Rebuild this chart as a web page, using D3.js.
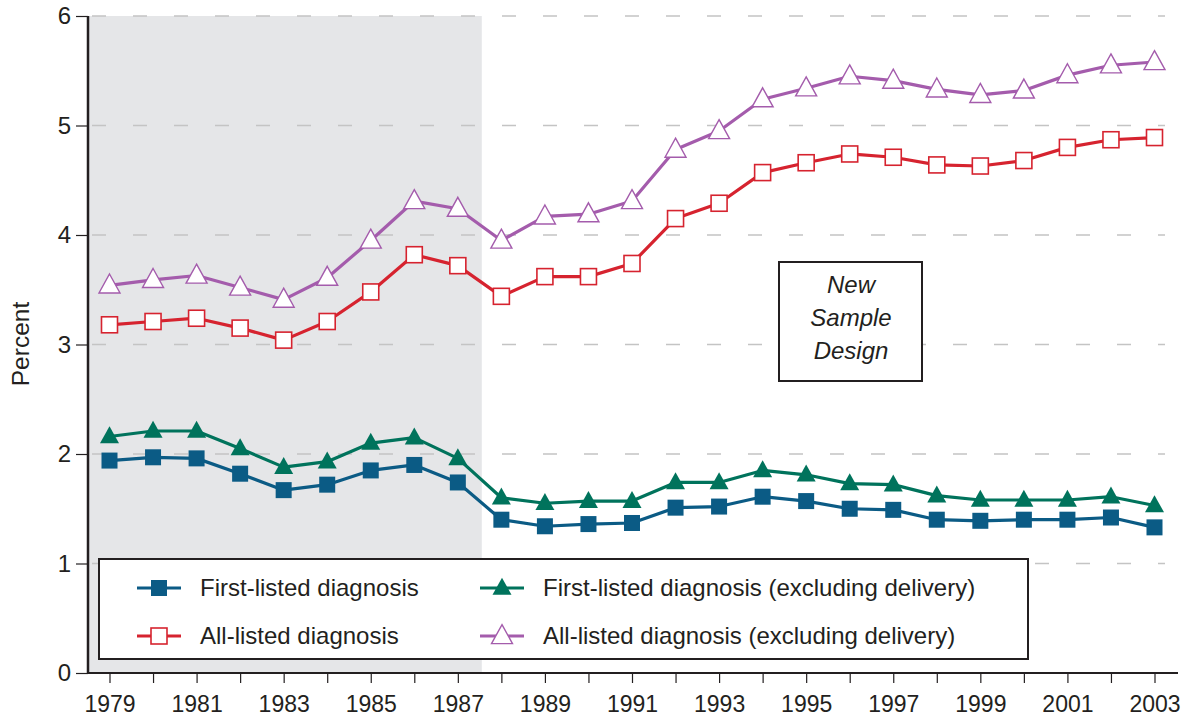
<!DOCTYPE html>
<html>
<head>
<meta charset="utf-8">
<script src="https://cdn.jsdelivr.net/npm/d3@7"></script>
<style>
  body { margin: 0; background: #fff; }
  svg { font-family: "Liberation Sans", Arial, sans-serif; }
</style>
</head>
<body>
<svg width="1188" height="717"></svg>
<script>
let years = d3.range(1979, 2004);

let firstListed = [1.94, 1.97, 1.96, 1.82, 1.67, 1.72, 1.85, 1.90, 1.74, 1.40, 1.34, 1.36, 1.37,
  1.51, 1.52, 1.61, 1.57, 1.50, 1.49, 1.40, 1.39, 1.40, 1.40, 1.42, 1.33];
let firstListedExDel = [2.16, 2.21, 2.21, 2.05, 1.88, 1.93, 2.10, 2.15, 1.96, 1.60, 1.55, 1.57, 1.57,
  1.74, 1.74, 1.85, 1.81, 1.73, 1.72, 1.62, 1.58, 1.58, 1.58, 1.61, 1.53];
let allListed = [3.18, 3.21, 3.24, 3.15, 3.04, 3.21, 3.48, 3.82, 3.72, 3.44, 3.62, 3.62, 3.74,
  4.15, 4.29, 4.57, 4.66, 4.74, 4.71, 4.64, 4.63, 4.68, 4.80, 4.87, 4.89];
let allListedExDel = [3.54, 3.59, 3.63, 3.52, 3.41, 3.61, 3.95, 4.31, 4.24, 3.95, 4.17, 4.19, 4.31,
  4.78, 4.95, 5.24, 5.34, 5.45, 5.41, 5.33, 5.28, 5.32, 5.46, 5.55, 5.58];

let yTicks = [0, 1, 2, 3, 4, 5, 6];

let series = [
  {name: 'First-listed diagnosis', values: firstListed, color: '#0b5b85', shape: 'square', filled: true},
  {name: 'First-listed diagnosis (excluding delivery)', values: firstListedExDel, color: '#00735c', shape: 'triangle', filled: true},
  {name: 'All-listed diagnosis', values: allListed, color: '#d6232f', shape: 'square', filled: false},
  {name: 'All-listed diagnosis (excluding delivery)', values: allListedExDel, color: '#a45cac', shape: 'triangle', filled: false}
];

let svg = d3.select('svg');

let plotLeft = 88, plotRight = 1178, plotTop = 16, plotBottom = 673;
let ink = '#231f20';

let x = d3.scaleLinear().domain([1979, 2003]).range([109.5, 1154.5]);
let y = d3.scaleLinear().domain([0, 6]).range([plotBottom, plotTop]);

/* Shaded old sample design period */
svg.append('rect')
  .attr('x', plotLeft).attr('y', plotTop)
  .attr('width', x(1987.55) - plotLeft).attr('height', plotBottom - plotTop)
  .attr('fill', '#e5e6e8');

/* Dashed gridlines */
svg.append('g').selectAll('line').data(yTicks.filter(d => d > 0)).enter().append('line')
  .attr('x1', plotLeft + 4).attr('x2', 1165)
  .attr('y1', d => y(d)).attr('y2', d => y(d))
  .attr('stroke', '#c4c4c4').attr('stroke-width', 1.3)
  .attr('stroke-dasharray', '14,27');

/* Y axis */
let yAxis = svg.append('g').attr('transform', `translate(${plotLeft},0)`)
  .call(d3.axisLeft(y).tickValues(yTicks).tickSize(12).tickPadding(5).tickFormat(d3.format('d')));
yAxis.select('.domain').attr('stroke', ink).attr('stroke-width', 2.5).attr('d', `M0,${plotTop}V${plotBottom}`);
yAxis.selectAll('.tick line').attr('stroke', ink).attr('stroke-width', 1.2);
yAxis.selectAll('.tick text').attr('font-size', 24).attr('fill', ink).attr('font-family', null);

/* X axis */
let xAxis = svg.append('g').attr('transform', `translate(0,${plotBottom})`)
  .call(d3.axisBottom(x).tickValues(years).tickSize(10).tickPadding(13)
    .tickFormat(d => d % 2 === 1 ? d : ''));
xAxis.select('.domain').attr('stroke', ink).attr('stroke-width', 2).attr('d', `M${plotLeft},0H${plotRight}`);
xAxis.selectAll('.tick line').attr('stroke', ink).attr('stroke-width', 1.2);
xAxis.selectAll('.tick text').attr('font-size', 23).attr('fill', ink).attr('font-family', null);

/* Y axis title */
svg.append('text')
  .attr('transform', 'translate(29,344) rotate(-90)')
  .attr('text-anchor', 'middle')
  .attr('font-size', 24.5).attr('fill', ink)
  .text('Percent');

/* Lines */
let line = d3.line().x((d, i) => x(years[i])).y(d => y(d));

function drawMarker(g, shape, color, filled, cx, cy) {
  if (shape === 'square') {
    let s = 16;
    g.append('rect')
      .attr('x', cx - s / 2).attr('y', cy - s / 2)
      .attr('width', s).attr('height', s)
      .attr('fill', filled ? color : '#fff')
      .attr('stroke', filled ? 'none' : color)
      .attr('stroke-width', 1.6);
  } else {
    let w = filled ? 19 : 21, h = filled ? 17 : 19;
    g.append('path')
      .attr('d', `M${cx},${cy - h * 0.6}L${cx + w / 2},${cy + h * 0.4}L${cx - w / 2},${cy + h * 0.4}Z`)
      .attr('fill', filled ? color : '#fff')
      .attr('stroke', filled ? 'none' : color)
      .attr('stroke-width', 1.4);
  }
}

series.forEach(s => {
  let g = svg.append('g');
  g.append('path').datum(s.values)
    .attr('d', line)
    .attr('fill', 'none')
    .attr('stroke', s.color)
    .attr('stroke-width', 3.2)
    .attr('stroke-linejoin', 'round');
  s.values.forEach((v, i) => drawMarker(g, s.shape, s.color, s.filled, x(years[i]), y(v)));
});

/* Legend */
let legend = svg.append('g');
legend.append('rect')
  .attr('x', 99).attr('y', 559).attr('width', 929).attr('height', 100)
  .attr('fill', '#fff').attr('stroke', ink).attr('stroke-width', 2);

let legendPos = [[159, 588], [502, 588], [159, 636], [502, 636]];
series.forEach((s, i) => {
  let [cx, cy] = legendPos[i];
  legend.append('line')
    .attr('x1', cx - 22).attr('x2', cx + 22).attr('y1', cy).attr('y2', cy)
    .attr('stroke', s.color).attr('stroke-width', 3.2);
  drawMarker(legend, s.shape, s.color, s.filled, cx, cy);
  legend.append('text')
    .attr('x', cx + 41).attr('y', cy + 8)
    .attr('font-size', 24).attr('fill', ink)
    .text(s.name);
});

/* New Sample Design box */
let note = svg.append('g');
note.append('rect')
  .attr('x', 779).attr('y', 262).attr('width', 143).attr('height', 119)
  .attr('fill', '#fff').attr('stroke', ink).attr('stroke-width', 2);
['New', 'Sample', 'Design'].forEach((t, i) => {
  note.append('text')
    .attr('x', 851).attr('y', 293 + i * 33)
    .attr('text-anchor', 'middle')
    .attr('font-size', 24).attr('font-style', 'italic').attr('fill', ink)
    .text(t);
});
</script>
</body>
</html>
